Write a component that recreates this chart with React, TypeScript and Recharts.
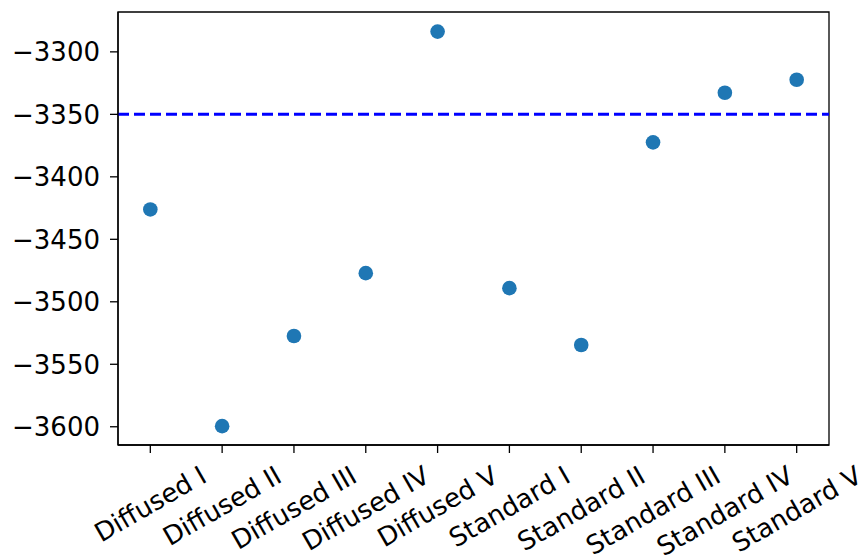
import { ScatterChart, Scatter, XAxis, YAxis, ReferenceLine, ReferenceArea } from 'recharts';

const categories = [
  'Diffused I', 'Diffused II', 'Diffused III', 'Diffused IV', 'Diffused V',
  'Standard I', 'Standard II', 'Standard III', 'Standard IV', 'Standard V',
];
const energies = [-3426.1, -3599.5, -3527.4, -3477.1, -3283.8, -3489.1, -3534.6, -3372.4, -3332.7, -3322.3];
const yTicks = [-3600, -3550, -3500, -3450, -3400, -3350, -3300];
const threshold = -3350;

const X_DOMAIN: [number, number] = [-0.45, 9.45];
const Y_DOMAIN: [number, number] = [-3614.6, -3268.1];
const FONT = 'DejaVu Sans, sans-serif';
const FONT_SIZE = 26;

let ctx: CanvasRenderingContext2D | null = null;
function textWidth(s: string) {
  if (!ctx) ctx = document.createElement('canvas').getContext('2d');
  if (!ctx) return s.length * FONT_SIZE * 0.6;
  ctx.font = `${FONT_SIZE}px "DejaVu Sans"`;
  return ctx.measureText(s).width;
}

// matplotlib-style rotated label: rotated bbox centred on the tick, top aligned below it
function RotatedTick({ x, y, payload }: any) {
  const label = categories[payload.value] ?? '';
  const w = textWidth(label);
  const h = FONT_SIZE * 1.16;
  const boxH = w * Math.sin(Math.PI / 6) + h * Math.cos(Math.PI / 6);
  const cy = y + boxH / 2;
  return (
    <text
      x={x}
      y={cy}
      textAnchor="middle"
      dominantBaseline="central"
      transform={`rotate(-30 ${x} ${cy})`}
      fontFamily={FONT}
      fontSize={FONT_SIZE}
      fill="#000"
    >
      {label}
    </text>
  );
}

export default function App() {
  const data = categories.map((name, i) => ({ x: i, y: energies[i], name }));

  return (
    <div style={{ position: 'absolute', left: 0, top: 0 }}>
      <style>{'body{margin:0}'}</style>
      <ScatterChart width={863} height={560} margin={{ top: 12, right: 34, left: 0, bottom: 0 }}>
        <XAxis
          type="number"
          dataKey="x"
          domain={X_DOMAIN}
          allowDataOverflow
          ticks={categories.map((_, i) => i)}
          interval={0}
          height={115}
          tickSize={8}
          tickMargin={7}
          tick={<RotatedTick />}
          axisLine={{ stroke: '#000', strokeWidth: 1.3 }}
          tickLine={{ stroke: '#000', strokeWidth: 1.3 }}
        />
        <YAxis
          type="number"
          dataKey="y"
          domain={Y_DOMAIN}
          allowDataOverflow
          ticks={yTicks}
          interval={0}
          width={118}
          tickSize={8}
          tickMargin={10}
          tickFormatter={(v: number) => String(v).replace('-', '\u2212')}
          tick={{ fill: '#000', fontSize: FONT_SIZE, fontFamily: FONT }}
          axisLine={{ stroke: '#000', strokeWidth: 1.3 }}
          tickLine={{ stroke: '#000', strokeWidth: 1.3 }}
        />
        <ReferenceArea
          x1={X_DOMAIN[0]}
          x2={X_DOMAIN[1]}
          y1={Y_DOMAIN[0]}
          y2={Y_DOMAIN[1]}
          fill="none"
          stroke="#000"
          strokeWidth={1.3}
          ifOverflow="visible"
        />
        <ReferenceLine y={threshold} stroke="#0000ff" strokeWidth={3} strokeDasharray="11 5" />
        <Scatter
          data={data}
          isAnimationActive={false}
          shape={(p: any) => <circle cx={p.cx} cy={p.cy} r={7.3} fill="#1f77b4" />}
        />
      </ScatterChart>
    </div>
  );
}
